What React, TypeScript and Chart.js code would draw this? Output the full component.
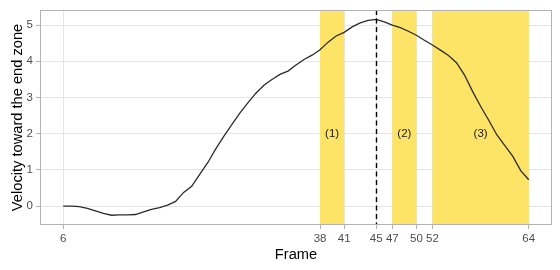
import React, { useEffect, useRef } from "react";
import { Chart, registerables } from "chart.js";

Chart.register(...registerables);

const frames: number[] = [
  6, 7, 8, 9, 10, 11, 12, 13, 14, 15, 16, 17, 18, 19, 20, 21, 22, 23, 24, 25,
  26, 27, 28, 29, 30, 31, 32, 33, 34, 35, 36, 37, 38, 39, 40, 41, 42, 43, 44, 45,
  46, 47, 48, 49, 50, 51, 52, 53, 54, 55, 56, 57, 58, 59, 60, 61, 62, 63, 64,
];
const velocity: number[] = [
  0.0, 0.0, -0.01, -0.06, -0.13, -0.2, -0.25, -0.24, -0.24, -0.23, -0.16, -0.09, -0.04, 0.03, 0.13, 0.38, 0.55, 0.88, 1.2, 1.58,
  1.93, 2.25, 2.57, 2.85, 3.12, 3.34, 3.5, 3.64, 3.73, 3.9, 4.05, 4.17, 4.32, 4.53, 4.7, 4.8, 4.95, 5.06, 5.13, 5.16,
  5.09, 5.0, 4.93, 4.83, 4.72, 4.58, 4.45, 4.31, 4.16, 3.96, 3.62, 3.17, 2.76, 2.38, 1.98, 1.68, 1.38, 0.98, 0.73,
];
const xTicks: number[] = [6, 38, 41, 45, 47, 50, 52, 64];
const yTicks: number[] = [0, 1, 2, 3, 4, 5];
const bandStarts: number[] = [38, 47, 52];
const bandEnds: number[] = [41, 50, 64];
const bandLabels: string[] = ["(1)", "(2)", "(3)"];
const labelX: number[] = [39.5, 48.5, 58];
const labelY = 2;
const peakFrame = 45;

const FONT = "'Liberation Sans', Arial, Helvetica, sans-serif";

export default function App() {
  const ref = useRef<HTMLCanvasElement>(null);
  useEffect(() => {
    document.body.style.margin = "0";
    const canvas = ref.current!;
    const overlay = {
      id: "overlay",
      beforeDatasetsDraw(chart: any) {
        const { ctx, chartArea, scales } = chart;
        const x = scales.x;
        ctx.save();
        ctx.fillStyle = "rgb(253,227,102)";
        for (let i = 0; i < bandStarts.length; i++) {
          const x0 = x.getPixelForValue(bandStarts[i]);
          const x1 = x.getPixelForValue(bandEnds[i]);
          ctx.fillRect(x0, chartArea.top, x1 - x0, chartArea.bottom - chartArea.top);
        }
        ctx.restore();
      },
      afterDatasetsDraw(chart: any) {
        const { ctx, chartArea, scales } = chart;
        const x = scales.x;
        const y = scales.y;
        ctx.save();
        ctx.strokeStyle = "#000";
        ctx.lineWidth = 1.4;
        ctx.setLineDash([5, 3.5]);
        const px = Math.round(x.getPixelForValue(peakFrame)) + 0.5;
        ctx.beginPath();
        ctx.moveTo(px, chartArea.top);
        ctx.lineTo(px, chartArea.bottom);
        ctx.stroke();
        ctx.setLineDash([]);
        ctx.fillStyle = "#1a1a1a";
        ctx.font = `11.5px ${FONT}`;
        ctx.textAlign = "center";
        ctx.textBaseline = "middle";
        for (let i = 0; i < bandLabels.length; i++) {
          ctx.fillText(bandLabels[i], x.getPixelForValue(labelX[i]), y.getPixelForValue(labelY));
        }
        ctx.strokeStyle = "#B3B3B3";
        ctx.lineWidth = 1;
        ctx.strokeRect(
          Math.round(chartArea.left) + 0.5,
          Math.round(chartArea.top) + 0.5,
          Math.round(chartArea.right - chartArea.left) - 1,
          Math.round(chartArea.bottom - chartArea.top) - 1
        );
        ctx.restore();
      },
    };
    const chart = new Chart(canvas, {
      type: "line",
      data: {
        datasets: [
          {
            data: frames.map((f, i) => ({ x: f, y: velocity[i] })),
            borderColor: "#2b2b2b",
            borderWidth: 1.3,
            pointRadius: 0,
            tension: 0,
            fill: false,
          },
        ],
      },
      options: {
        responsive: false,
        animation: false,
        layout: { padding: { top: 7, right: 8, left: 0, bottom: 0 } },
        plugins: { legend: { display: false }, tooltip: { enabled: false } },
        scales: {
          x: {
            type: "linear",
            min: 3.1,
            max: 66.9,
            afterBuildTicks: (s: any) => {
              s.ticks = xTicks.map((v) => ({ value: v }));
            },
            afterFit: (s: any) => {
              s.height = 45;
            },
            ticks: {
              autoSkip: false,
              maxRotation: 0,
              color: "#4D4D4D",
              font: { family: FONT, size: 11.5 },
              padding: 3,
              callback: (v: any) => String(v),
            },
            grid: {
              color: "#E6E6E6",
              lineWidth: 1,
              drawTicks: true,
              tickLength: 4,
              tickColor: "#B3B3B3",
            },
            border: { display: false },
            title: {
              display: true,
              text: "Frame",
              color: "#000",
              font: { family: FONT, size: 14.67 },
              padding: { top: 0, bottom: 6 },
            },
          },
          y: {
            type: "linear",
            min: -0.52,
            max: 5.42,
            afterBuildTicks: (s: any) => {
              s.ticks = yTicks.map((v) => ({ value: v }));
            },
            afterFit: (s: any) => {
              s.width = 40;
            },
            ticks: {
              color: "#4D4D4D",
              font: { family: FONT, size: 11.5 },
              padding: 3,
              callback: (v: any) => String(v),
            },
            grid: {
              color: "#E6E6E6",
              lineWidth: 1,
              drawTicks: true,
              tickLength: 4,
              tickColor: "#B3B3B3",
            },
            border: { display: false },
            title: {
              display: true,
              text: "Velocity toward the end zone",
              color: "#000",
              font: { family: FONT, size: 14.67 },
              padding: { top: 9, bottom: 0 },
            },
          },
        },
      },
      plugins: [overlay],
    });
    return () => chart.destroy();
  }, []);
  return <canvas ref={ref} width={560} height={270} style={{ display: "block" }} />;
}
